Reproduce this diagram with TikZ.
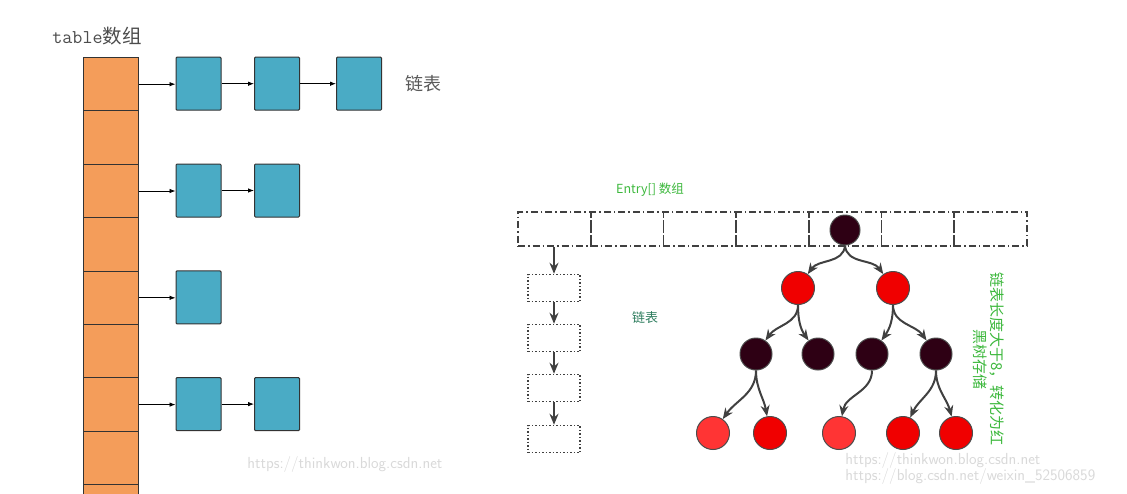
\documentclass[tikz,border=0pt]{standalone}
\usepackage{fontspec}
\newfontfamily\cjk{Noto Sans CJK SC}
\usetikzlibrary{arrows.meta, positioning}
\definecolor{cellorange}{HTML}{F49D5A}
\definecolor{nodeblue}{HTML}{4AABC5}
\definecolor{rbblack}{HTML}{2E0014}
\definecolor{rbred}{HTML}{F00000}
\definecolor{rblight}{HTML}{FF3434}
\definecolor{labgreen}{HTML}{3DB83D}
\definecolor{labteal}{HTML}{2E7D5E}

\begin{document}
\begin{tikzpicture}[x=1pt, y=-1pt, thick,
    cell/.style={draw=black!80, fill=cellorange, minimum width=55pt, minimum height=53.4pt, inner sep=0pt, line width=1pt},
    entry/.style={draw=black!80, fill=nodeblue, minimum width=45pt, minimum height=53pt, inner sep=0pt, line width=1pt, rounded corners=1pt},
    slot/.style={draw=black!75, dash pattern=on 7pt off 3pt on 1.5pt off 3pt, minimum width=72.7pt, minimum height=34pt, inner sep=0pt, line width=1.6pt},
    link/.style={draw=black!75, dash pattern=on 1.5pt off 2pt, minimum width=52pt, minimum height=27pt, inner sep=0pt, line width=1.5pt},
    blk/.style={circle, draw=black!70, fill=rbblack, minimum size=32pt, inner sep=0pt, line width=1pt},
    rednode/.style={circle, draw=black!70, fill=rbred, minimum size=33pt, inner sep=0pt, line width=1pt},
    lred/.style={circle, draw=black!70, fill=rblight, minimum size=33pt, inner sep=0pt, line width=1pt},
    harrow/.style={-{Latex[length=6pt]}, line width=0.8pt},
    tarrow/.style={-{Stealth[length=11pt, width=9pt]}, draw=black!75, line width=2pt},
    wmark/.style={text=black!15, font=\sffamily\fontsize{16}{16}\selectfont}]
  \useasboundingbox (0,0) rectangle (1127,493);

  % table column
  \foreach \i in {0,...,8}
    \node[cell, anchor=north] (c\i) at (110.5, 57+53.4*\i) {};
  \node[anchor=west, font=\ttfamily\fontsize{19.5}{20}\selectfont, text=black!70, inner sep=0pt] (tab) at (52,36) {table{\cjk 数组}};

  % buckets
  \node[entry] (a1) at (198.5,83.7) {};
  \node[entry] (a2) at (277,83.7) {};
  \node[entry] (a3) at (359,83.7) {};
  \node[entry] (b1) at (198.5,190.5) {};
  \node[entry] (b2) at (277,190.5) {};
  \node[entry] (d1) at (198.5,297.3) {};
  \node[entry] (e1) at (198.5,404.1) {};
  \node[entry] (e2) at (277,404.1) {};
  \draw[harrow] (c0.east) -- (c0.east -| a1.west); \draw[harrow] (a1) -- (a2); \draw[harrow] (a2) -- (a3);
  \draw[harrow] (c2.east) -- (c2.east -| b1.west); \draw[harrow] (b1) -- (b2);
  \draw[harrow] (c4.east) -- (c4.east -| d1.west);
  \draw[harrow] (c6.east) -- (c6.east -| e1.west); \draw[harrow] (e1) -- (e2);
  \node[font=\cjk\fontsize{18}{18}\selectfont, text=black!65] (lst) at (423,84) {链表};

  % Entry array
  \foreach \i in {0,...,6}
    \node[slot] (s\i) at (554.4+72.7*\i, 229) {};
  \node[font=\cjk\fontsize{12.5}{13}\selectfont, text=labgreen] (ent) at (650,190) {Entry[] 数组};

  % linked list
  \node[link] (l1) at (554,288) {};
  \node[link] (l2) at (554,338) {};
  \node[link] (l3) at (554,388) {};
  \node[link] (l4) at (554,439) {};
  \draw[tarrow] (s0.south -| l1) -- (l1);
  \draw[tarrow] (l1) -- (l2); \draw[tarrow] (l2) -- (l3); \draw[tarrow] (l3) -- (l4);
  \node[font=\cjk\fontsize{13}{13}\selectfont, text=labteal] (lst2) at (645,318) {链表};

  % red-black tree
  \node[blk, minimum size=30pt] (r) at (845,230) {};
  \node[rednode] (p1) at (798,288) {};
  \node[rednode] (p2) at (893,288) {};
  \node[blk] (q1) at (756,354) {};
  \node[blk] (q2) at (818,354) {};
  \node[blk] (q3) at (872,354) {};
  \node[blk] (q4) at (936,354) {};
  \node[lred] (t1) at (713,433) {};
  \node[rednode] (t2) at (770,433) {};
  \node[lred] (t3) at (839,433) {};
  \node[rednode] (t4) at (903,433) {};
  \node[rednode] (t5) at (956,433) {};
  \draw[tarrow] (r.south) to[out=-95, in=55] (p1);
  \draw[tarrow] (r.south) to[out=-85, in=125] (p2);
  \draw[tarrow] (p1.south) to[out=-90, in=55] (q1);
  \draw[tarrow] (p1.south) to[out=-90, in=125] (q2);
  \draw[tarrow] (p2.south) to[out=-90, in=55] (q3);
  \draw[tarrow] (p2.south) to[out=-90, in=125] (q4);
  \draw[tarrow] (q1.south) to[out=-90, in=55] (t1);
  \draw[tarrow] (q1.south) to[out=-90, in=100] (t2);
  \draw[tarrow] (q3.south) to[out=-90, in=80] (t3);
  \draw[tarrow] (q4.south) to[out=-90, in=65] (t4);
  \draw[tarrow] (q4.south) to[out=-90, in=105] (t5);
  \node[font=\cjk\fontsize{15}{17}\selectfont, text=labgreen, rotate=-90, anchor=north west, align=center,
        inner sep=0pt] (note) at (1005,272)
    {链表长度大于8，转化为红\\黑树存储};

  % watermarks
  \node[wmark, anchor=west, inner sep=0pt] (w1) at (247,464) {https://thinkwon.blog.csdn.net};
  \node[wmark, anchor=west, inner sep=0pt] (w2) at (845,460) {https://thinkwon.blog.csdn.net};
  \node[wmark, anchor=west, inner sep=0pt] (w3) at (845,476) {https://blog.csdn.net/weixin\_52506859};
\end{tikzpicture}
\end{document}
